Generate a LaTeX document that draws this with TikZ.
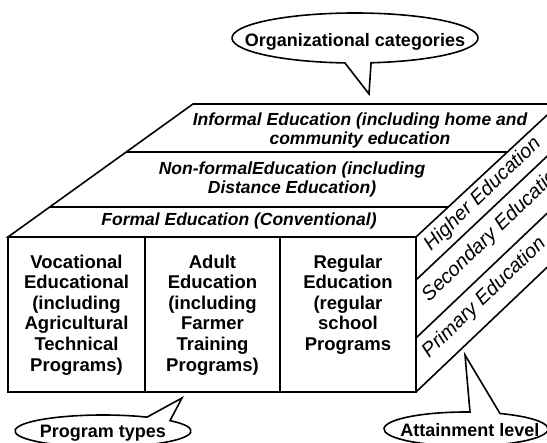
\documentclass[tikz,border=0pt]{standalone}
\usepackage{fontspec}
\setmainfont{Liberation Sans}
\usetikzlibrary{calc}
\begin{document}
\begin{tikzpicture}[x=1pt,y=-1pt,line width=1.6pt,line join=miter]
\tikzset{
 fronttext/.style={font=\fontsize{18.5}{20.6}\selectfont\bfseries, align=center, inner sep=0pt, anchor=north},
 toptext/.style={font=\fontsize{17.5}{19}\selectfont\bfseries\itshape, align=center, inner sep=0pt},
 sidetext/.style={font=\fontsize{20}{22}\selectfont\itshape, inner sep=0pt, rotate=44, anchor=west},
 calltext/.style={font=\fontsize{18}{20}\selectfont\bfseries, inner sep=0pt, anchor=base},
 callout/.style={line width=1.6pt, fill=white}
}
\useasboundingbox (0,0) rectangle (547,443);
\clip (0,0) rectangle (547,443);
% box corners
\coordinate (FL) at (8,237);
\coordinate (FR) at (416,237);
\coordinate (BL) at (8,392);
\coordinate (BR) at (416,392);
\coordinate (TL) at (193,104);
\coordinate (TR) at (559,104);
% top face
\draw (FL) -- (TL) -- (TR) -- (FR) -- cycle;
\coordinate (L1) at ($(FL)!0.639!(TL)$);
\coordinate (R1) at ($(FR)!0.639!(TR)$);
\coordinate (L2) at ($(FL)!0.2256!(TL)$);
\coordinate (R2) at ($(FR)!0.2256!(TR)$);
\draw (L1) -- (R1);
\draw (L2) -- (R2);
% front face
\draw (FL) rectangle (BR);
\coordinate (D1t) at (145,237); \coordinate (D1b) at (145,392);
\coordinate (D2t) at (280,237); \coordinate (D2b) at (280,392);
\draw (D1t) -- (D1b);
\draw (D2t) -- (D2b);
% right face
\coordinate (S1) at (416,280); \coordinate (S1e) at (559,145);
\coordinate (S2) at (416,338); \coordinate (S2e) at (559,202);
\coordinate (BRe) at (559,256);
\draw (BR) -- (BRe);
\draw (S1) -- (S1e);
\draw (S2) -- (S2e);
% top face texts
\node[toptext] (inf) at (360,130) {Informal Education (including home and\\community education};
\node[toptext] (nonf) at (292,179.5) {Non-formalEducation (including\\Distance Education)};
\node[toptext] (form) at (239,221) {Formal Education (Conventional)};
% front texts
\node[fronttext] (voc) at (76.5,253.8) {Vocational\\Educational\\(including\\Agricultural\\Technical\\Programs)};
\node[fronttext] (adu) at (212.5,253.8) {Adult\\Education\\(including\\Farmer\\Training\\Programs)};
\node[fronttext] (reg) at (348,253.8) {Regular\\Education\\(regular\\school\\Programs};
% side texts
\node[sidetext] (hig) at (427,248) {Higher Education};
\node[sidetext] (sec) at (425,299) {Secondary Education};
\node[sidetext] (pri) at (425,355) {Primary Education};
% callouts
\coordinate (octip) at (369,94);
\draw[callout] (355,38) ++(94.7:123 and 25) arc[start angle=94.7, end angle=442.5, x radius=123, y radius=25] -- (octip) -- cycle;
\node[calltext] (oc) at (355,47) {Organizational categories};
\coordinate (altip) at (465,355);
\draw[callout] (466,429) ++(294.5:82 and 17) arc[start angle=294.5, end angle=632.8, x radius=82, y radius=17] -- (altip) -- cycle;
\node[calltext] (al) at (470,437) {Attainment level};
\coordinate (pttip) at (182,398);
\draw[callout] (103,431) ++(319.6:88 and 16) arc[start angle=319.6, end angle=660, x radius=88, y radius=16] -- (pttip) -- cycle;
\node[calltext] (pt) at (103,438) {Program types};
\end{tikzpicture}
\end{document}
